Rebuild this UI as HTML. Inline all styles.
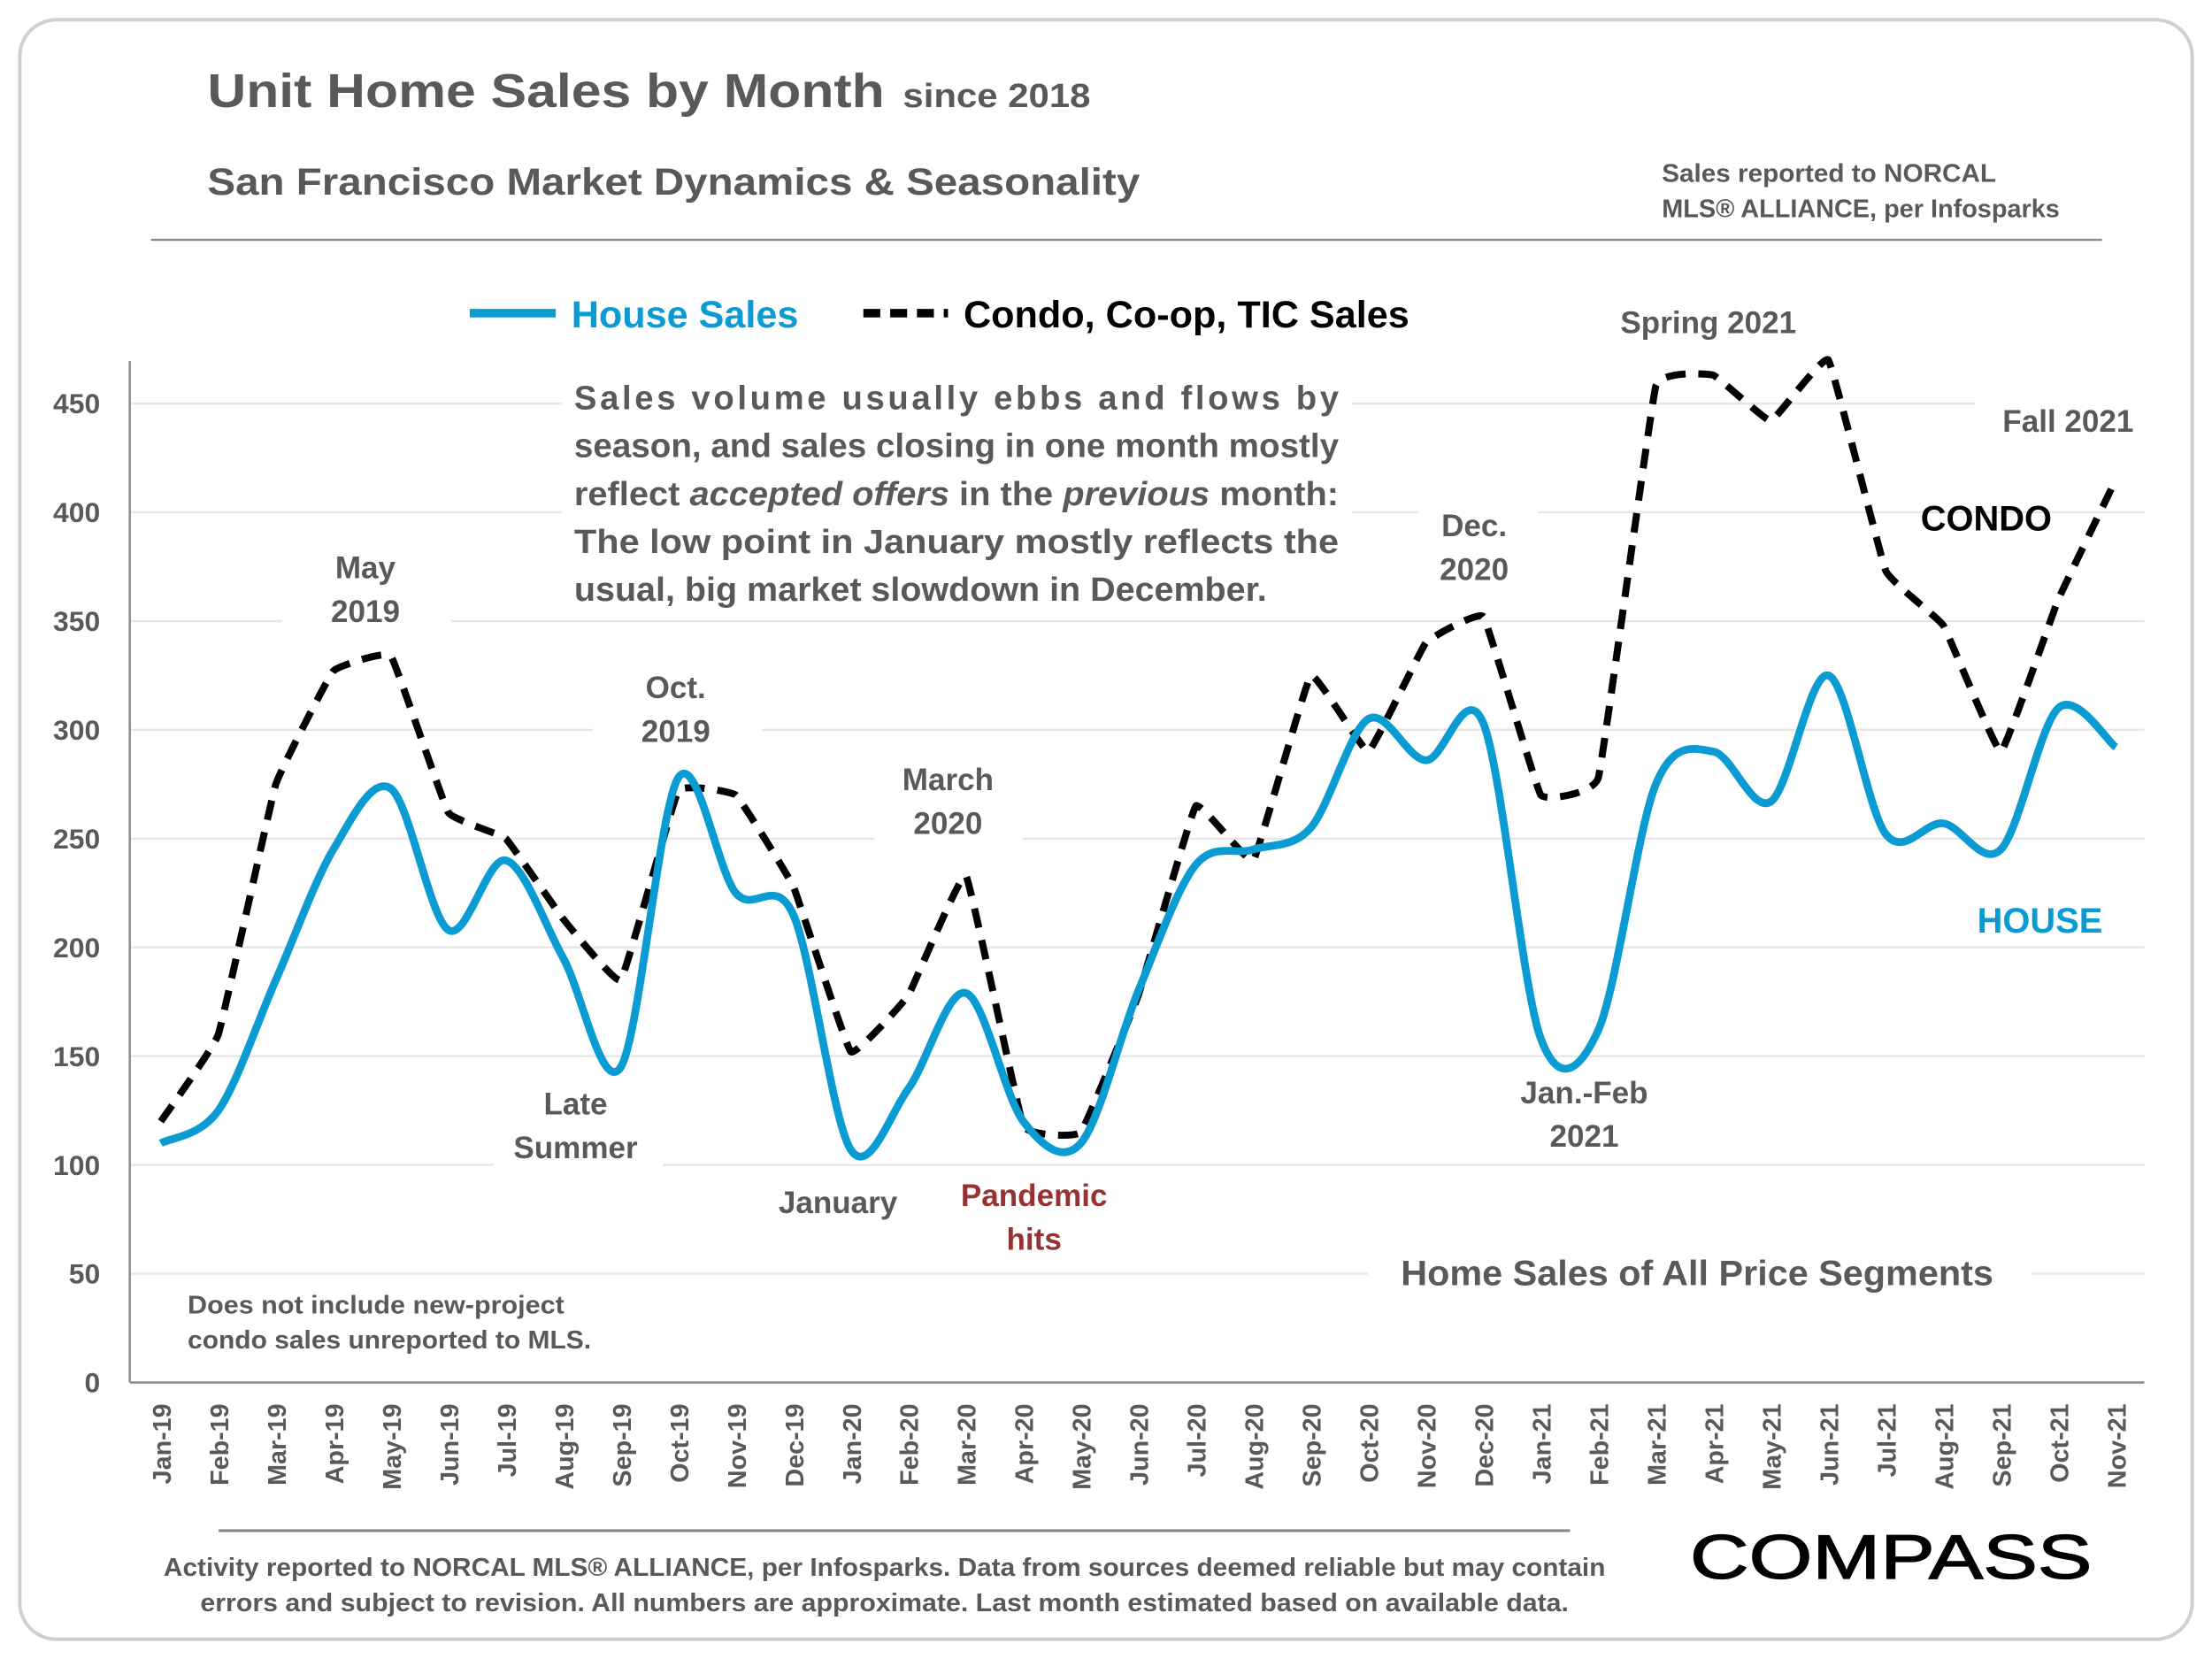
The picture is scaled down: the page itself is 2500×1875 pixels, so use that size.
<!DOCTYPE html>
<html><head><meta charset="utf-8"><style>
html,body{margin:0;padding:0;background:#fff}
svg{display:block}
text{font-family:"Liberation Sans",sans-serif;font-weight:bold}
</style></head><body>
<svg id="s" width="2500" height="1875" viewBox="0 0 1568 1176" xmlns="http://www.w3.org/2000/svg">
<rect x="0" y="0" width="1568" height="1176" fill="#fff"/>
<rect x="14" y="14" width="1540" height="1148" rx="26" fill="#fff" stroke="#d0d0d0" stroke-width="2.5"/>
<text x="147" y="76" font-size="34" fill="#595959" textLength="480" lengthAdjust="spacingAndGlyphs">Unit Home Sales by Month</text>
<text x="640" y="76" font-size="24" fill="#595959" textLength="133" lengthAdjust="spacingAndGlyphs">since 2018</text>
<text x="147" y="138" font-size="27" fill="#595959" textLength="661" lengthAdjust="spacingAndGlyphs">San Francisco Market Dynamics &amp; Seasonality</text>
<text x="1178" y="129" font-size="18" fill="#595959" textLength="237" lengthAdjust="spacingAndGlyphs">Sales reported to NORCAL</text>
<text x="1178" y="154" font-size="18" fill="#595959" textLength="282" lengthAdjust="spacingAndGlyphs">MLS® ALLIANCE, per Infosparks</text>
<g id="grid" stroke="#e6e6e6" stroke-width="1.5"></g>
<g id="ylab" font-size="20" fill="#595959" text-anchor="end"></g>
<line x1="92" y1="256" x2="92" y2="980" stroke="#888" stroke-width="1.5"/>
<line x1="92" y1="980" x2="1520" y2="980" stroke="#888" stroke-width="1.5"/>
<g id="xlab" font-size="18" fill="#595959" text-anchor="end"></g>
<rect x="398" y="262" width="560" height="175" fill="#fff"/>
<rect x="970" y="890" width="470" height="40" fill="#fff"/>
<rect x="110" y="905" width="320" height="60" fill="#fff"/>
<rect x="300" y="180" width="720" height="70" fill="#fff"/>
<rect x="1130" y="200" width="160" height="45" fill="#fff"/>
<rect x="1400" y="280" width="130" height="40" fill="#fff"/>
<rect x="200" y="385" width="120" height="65" fill="#fff"/>
<rect x="620" y="535" width="105" height="65" fill="#fff"/>
<rect x="420" y="470" width="120" height="65" fill="#fff"/>
<rect x="1005" y="355" width="85" height="65" fill="#fff"/>
<rect x="350" y="765" width="120" height="65" fill="#fff"/>
<rect x="1070" y="755" width="110" height="65" fill="#fff"/>
<line x1="107" y1="170" x2="1490" y2="170" stroke="#888" stroke-width="1.5"/>
<path id="condo" fill="none" stroke="#000" stroke-width="5" stroke-dasharray="14,9"/>
<path id="house" fill="none" stroke="#0a9bd3" stroke-width="5.5"/>
<line x1="333" y1="222" x2="394" y2="222" stroke="#0a9bd3" stroke-width="6"/>
<text x="405" y="232" font-size="27" fill="#0a9bd3" textLength="161" lengthAdjust="spacingAndGlyphs">House Sales</text>
<line x1="612" y1="222" x2="672" y2="222" stroke="#000" stroke-width="6" stroke-dasharray="12,7"/>
<text x="683" y="232" font-size="27" fill="#000" textLength="316" lengthAdjust="spacingAndGlyphs">Condo, Co-op, TIC Sales</text>
<g font-size="24" fill="#595959">
<text x="407" y="290" textLength="542" lengthAdjust="spacing">Sales volume usually ebbs and flows by</text>
<text x="407" y="324" textLength="542" lengthAdjust="spacingAndGlyphs">season, and sales closing in one month mostly</text>
<text x="407" y="358" textLength="542" lengthAdjust="spacingAndGlyphs">reflect <tspan font-style="italic">accepted offers</tspan> in the <tspan font-style="italic">previous</tspan> month:</text>
<text x="407" y="392" textLength="542" lengthAdjust="spacingAndGlyphs">The low point in January mostly reflects the</text>
<text x="407" y="426" textLength="491" lengthAdjust="spacingAndGlyphs">usual, big market slowdown in December.</text>
</g>
<g font-size="22" fill="#595959" text-anchor="middle">
<text x="259" y="410">May</text><text x="259" y="441">2019</text>
<text x="479" y="495">Oct.</text><text x="479" y="526">2019</text>
<text x="672" y="560">March</text><text x="672" y="591">2020</text>
<text x="1045" y="380">Dec.</text><text x="1045" y="411">2020</text>
<text x="408" y="790">Late</text><text x="408" y="821">Summer</text>
<text x="594" y="860">January</text>
<text x="1123" y="782">Jan.-Feb</text><text x="1123" y="813">2021</text>
<text x="1211" y="236">Spring 2021</text>
<text x="1466" y="306">Fall 2021</text>
</g>
<g font-size="22" fill="#983232" text-anchor="middle"><text x="733" y="855">Pandemic</text><text x="733" y="886">hits</text></g>
<text x="1408" y="376" font-size="25" fill="#000" text-anchor="middle">CONDO</text>
<text x="1446" y="661" font-size="25" fill="#0a9bd3" text-anchor="middle">HOUSE</text>
<text x="993" y="911" font-size="25" fill="#595959" textLength="420" lengthAdjust="spacingAndGlyphs">Home Sales of All Price Segments</text>
<text x="133" y="931" font-size="18" fill="#595959" textLength="267" lengthAdjust="spacingAndGlyphs">Does not include new-project</text>
<text x="133" y="956" font-size="18" fill="#595959" textLength="286" lengthAdjust="spacingAndGlyphs">condo sales unreported to MLS.</text>
<line x1="155" y1="1085" x2="1113" y2="1085" stroke="#888" stroke-width="2"/>
<text x="627" y="1117" font-size="18" fill="#595959" text-anchor="middle" textLength="1022" lengthAdjust="spacingAndGlyphs">Activity reported to NORCAL MLS® ALLIANCE, per Infosparks. Data from sources deemed reliable but may contain</text>
<text x="627" y="1142" font-size="18" fill="#595959" text-anchor="middle" textLength="970" lengthAdjust="spacingAndGlyphs">errors and subject to revision. All numbers are approximate. Last month estimated based on available data.</text>
<text x="1198" y="1119" font-size="44" fill="#000" stroke="#000" stroke-width="0.8" textLength="285" lengthAdjust="spacingAndGlyphs" style="font-weight:normal">COMPASS</text>
</svg>
<script>
var NS="http://www.w3.org/2000/svg";
function el(p,t,a,txt){var e=document.createElementNS(NS,t);for(var k in a)e.setAttribute(k,a[k]);if(txt!=null)e.textContent=txt;p.appendChild(e);return e;}
function Y(v){return 980-v*1.5422;}
function X(i){return 114+i*40.76;}
var g=document.getElementById('grid'),yl=document.getElementById('ylab');
for(var v=50;v<=450;v+=50)el(g,'line',{x1:92,x2:1520,y1:Y(v),y2:Y(v)});
for(var v=0;v<=450;v+=50)el(yl,'text',{x:71,y:Y(v)+7},v);
var m=["Jan","Feb","Mar","Apr","May","Jun","Jul","Aug","Sep","Oct","Nov","Dec"],xl=document.getElementById('xlab');
for(var i=0;i<35;i++){var lab=m[i%12]+"-"+(19+Math.floor(i/12));var x=X(i)+7,y=995;el(xl,'text',{x:x,y:y,transform:"rotate(-90 "+x+" "+y+")"},lab);}
var H=[110,125,185,245,273,208,240,195,145,278,225,215,107,135,179,120,110,180,238,245,255,305,286,303,158,162,275,290,267,325,252,257,245,310,292];
var C=[120,160,275,327,334,262,250,213,185,272,270,228,152,178,233,118,115,178,265,240,325,290,340,352,270,278,458,463,442,470,373,348,290,360,415];
function smooth(d,t){var p=d.map(function(v,i){return[X(i),Y(v)]});var s="M"+p[0][0]+","+p[0][1];
for(var i=0;i<p.length-1;i++){var p0=p[i-1]||p[i],p1=p[i],p2=p[i+1],p3=p[i+2]||p2;
s+=" C"+(p1[0]+(p2[0]-p0[0])*t)+","+(p1[1]+(p2[1]-p0[1])*t)+" "+(p2[0]-(p3[0]-p1[0])*t)+","+(p2[1]-(p3[1]-p1[1])*t)+" "+p2[0]+","+p2[1];}return s;}
document.getElementById('house').setAttribute('d',smooth(H,0.16));
document.getElementById('condo').setAttribute('d',smooth(C,0.04));
</script>
</body></html>
